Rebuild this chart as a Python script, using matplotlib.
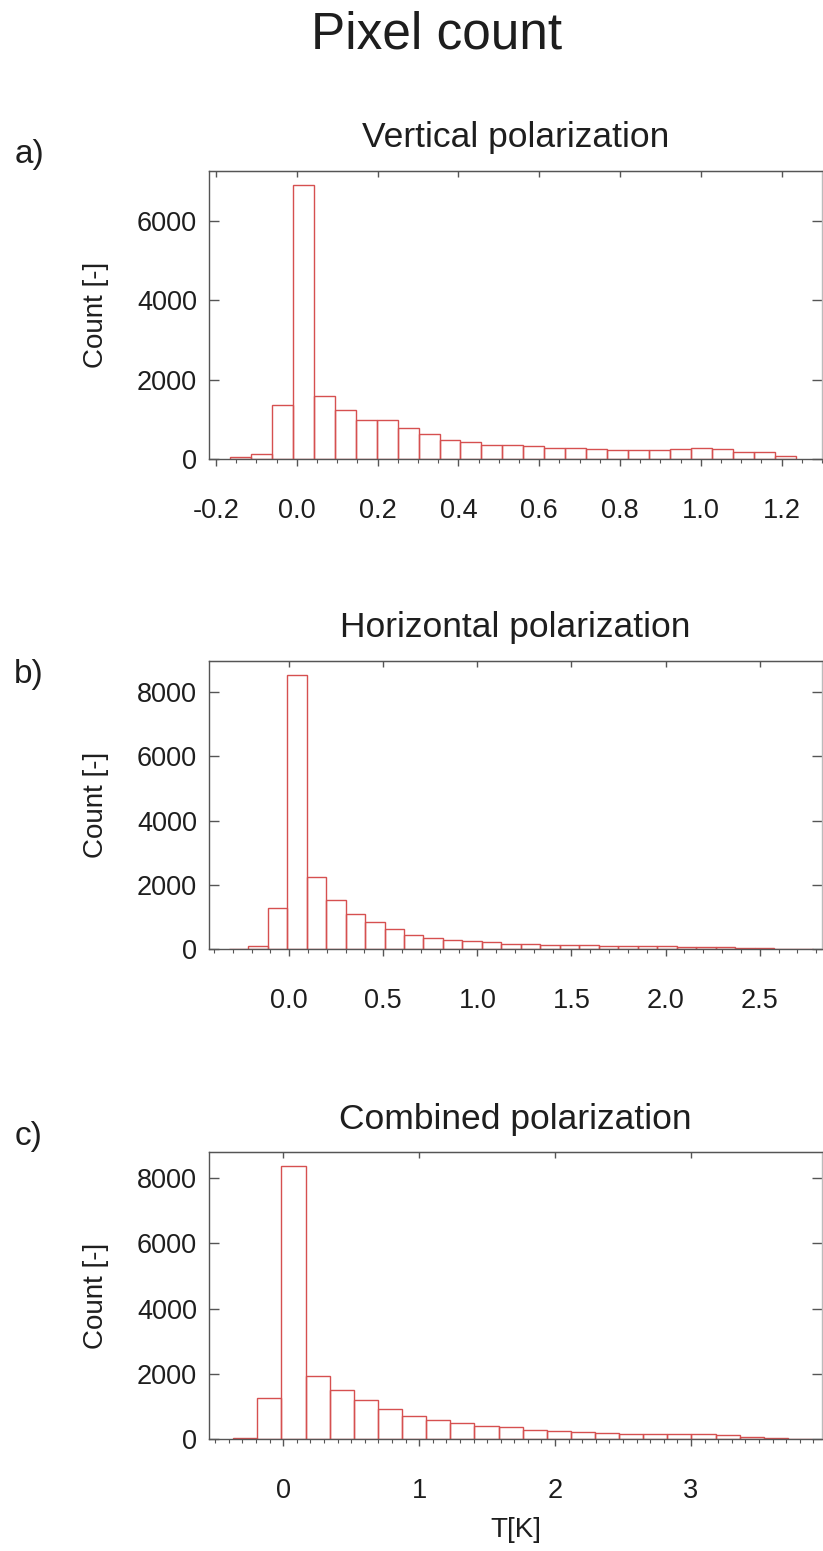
import numpy as np
import matplotlib
matplotlib.use('Agg')
from matplotlib import pyplot as plt
from matplotlib.ticker import MultipleLocator, FormatStrFormatter

plt.rcParams['font.family'] = ['Liberation Sans', 'DejaVu Sans']
plt.rcParams['axes.unicode_minus'] = False

# histogram counts
vert_counts = [59, 118, 1363, 6916, 1582, 1245, 993, 984, 782, 639, 480, 429, 345,
               362, 320, 286, 286, 252, 236, 236, 219, 252, 269, 252, 177, 177, 76]
vert_range = (-0.166, 1.236)

horiz_counts = [10, 94, 1269, 8549, 2257, 1529, 1102, 842, 634, 447, 354, 281, 250,
                208, 166, 156, 135, 135, 125, 104, 94, 94, 94, 73, 73, 73, 42, 31, 10, 10]
horiz_range = (-0.321, 2.783)

comb_counts = [41, 1253, 8385, 1936, 1498, 1182, 917, 693, 571, 489, 387, 357,
               285, 255, 204, 194, 163, 163, 163, 143, 112, 61, 31, 10]
comb_range = (-0.368, 3.891)

titles = ['Vertical polarization', 'Horizontal polarization', 'Combined polarization']
panel_tags = ['a)', 'b)', 'c)']

red = '#d65050'
txt = '#1e1e1e'
spine_col = '#555555'

fig = plt.figure(figsize=(8.23, 15.51), dpi=100)

W, H = 823.0, 1551.0
def rect(top, bottom, left=209, right=822):
    return [left / W, 1 - bottom / H, (right - left) / W, (bottom - top) / H]

ax_a = fig.add_axes(rect(171, 459))
ax_b = fig.add_axes(rect(661, 949))
ax_c = fig.add_axes(rect(1152, 1439))

setups = [
    (ax_a, vert_counts, vert_range, (-0.2173, 1.300), 0.2, 0.05, '%.1f', [0, 2000, 4000, 6000]),
    (ax_b, horiz_counts, horiz_range, (-0.426, 2.831), 0.5, 0.1, '%.1f', [0, 2000, 4000, 6000, 8000]),
    (ax_c, comb_counts, comb_range, (-0.546, 3.964), 1.0, 0.1, '%d', [0, 2000, 4000, 6000, 8000]),
]

for i, (ax, counts, rng, xl, major, minor, fmt, yt) in enumerate(setups):
    n = len(counts)
    edges = np.linspace(rng[0], rng[1], n + 1)
    width = edges[1] - edges[0]
    ax.bar(edges[:-1], counts, width=width, align='edge', fill=False,
           edgecolor=red, linewidth=1.0)
    ax.set_xlim(*xl)
    ax.set_ylim(0, max(counts) * 1.05)
    ax.xaxis.set_major_locator(MultipleLocator(major))
    ax.xaxis.set_minor_locator(MultipleLocator(minor))
    ax.xaxis.set_major_formatter(FormatStrFormatter(fmt))
    ax.set_yticks(yt)
    ax.tick_params(axis='x', which='major', direction='out', length=5, width=1,
                   pad=23, labelsize=19.5, colors=spine_col, labelcolor=txt, top=False)
    ax.tick_params(axis='x', which='minor', direction='out', length=3, width=0.8,
                   colors=spine_col, top=False)
    ax.tick_params(axis='y', which='major', direction='in', length=7.5, width=1,
                   pad=8.6, labelsize=19.5, colors=spine_col, labelcolor=txt,
                   left=True, right=True)
    for s in ax.spines.values():
        s.set_color(spine_col)
        s.set_linewidth(1.0)
    ax.spines['right'].set_color('#bbbbbb')

    sec = ax.secondary_xaxis('top')
    sec.xaxis.set_major_locator(MultipleLocator(major))
    sec.xaxis.set_minor_locator(plt.NullLocator())
    sec.tick_params(axis='x', direction='in', length=4.5, width=1, colors=spine_col,
                    labeltop=False)
    sec.spines['top'].set_color(spine_col)

    ax.text(0.5, 1 + 33 / 288.0, titles[i], transform=ax.transAxes, ha='center',
            va='center', fontsize=25.5, color=txt)
    ax.text(-113 / 613.0, 0.5, 'Count [-]', transform=ax.transAxes, rotation=90,
            ha='center', va='center', fontsize=20, color=txt)

ax_c.text(0.5, -91 / 287.0, 'T[K]', transform=ax_c.transAxes, ha='center',
          va='center', fontsize=20, color=txt)

fig.text(437 / W, 1 - 35 / H, 'Pixel count', ha='center', va='center',
         fontsize=37, color=txt)
for tag, yy in zip(panel_tags, [155, 674, 1137]):
    fig.text(29 / W, 1 - yy / H, tag, ha='center', va='center', fontsize=24, color=txt)

fig.savefig('out.png', dpi=100)
